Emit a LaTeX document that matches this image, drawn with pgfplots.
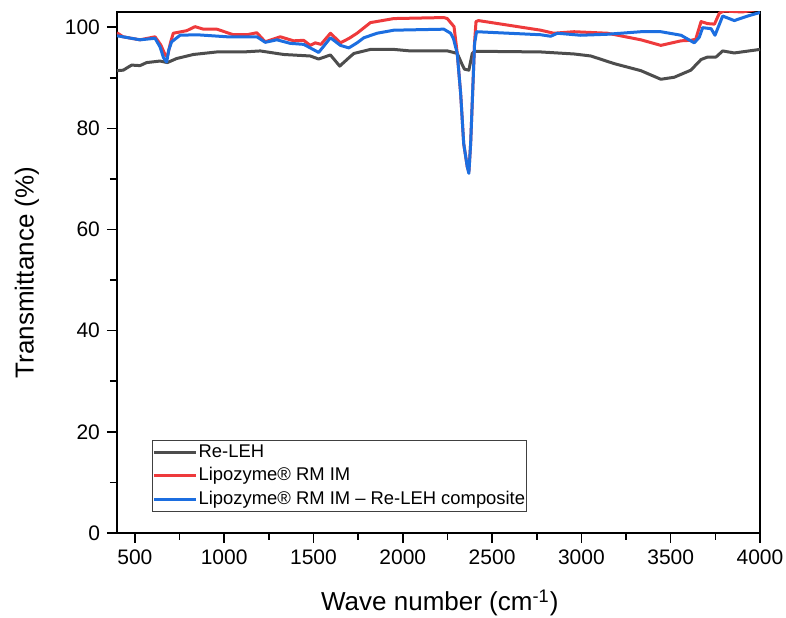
\documentclass[border=0pt]{standalone}
\usepackage{pgfplots}
\pgfplotsset{compat=1.18}
\usepackage{fontspec}
\setmainfont{Liberation Sans}
\definecolor{cblk}{HTML}{4D4D4D}
\definecolor{cred}{HTML}{EE3A3C}
\definecolor{cblu}{HTML}{1C6EE0}
\begin{document}
\begin{tikzpicture}
\begin{axis}[
  scale only axis, width=321.5pt, height=260.5pt,
  xmin=400, xmax=4000, ymin=0, ymax=103,
  xtick={500,1000,...,4000}, ytick={0,20,...,100},
  minor tick num=1,
  tick align=outside, tick pos=left,
  major tick length=5pt, minor tick length=3.5pt,
  every tick/.style={black, line width=0.8pt},
  axis line style={line width=1pt},
  /pgf/number format/assume math mode=true,
  /pgf/number format/set thousands separator={},
  ticklabel style={font=\fontsize{10.5}{12}\selectfont},
  xlabel={Wave number (cm\textsuperscript{-1})},
  ylabel={Transmittance (\%)},
  label style={font=\fontsize{13}{15}\selectfont},
  xlabel style={at={(axis description cs:0.502,-0.134)}, anchor=center},
  ylabel style={at={(axis description cs:-0.140,0.5)}, anchor=center},
  legend cell align=left,
  legend style={at={(rel axis cs:0.0544,0.0403)}, anchor=south west,
    draw=black!75, line width=0.5pt, inner xsep=0pt, inner ysep=1pt,
    font=\fontsize{9.2}{11}\selectfont, row sep=1.5pt,
    nodes={inner sep=0.6pt, text height=7pt, text depth=2pt}},
  legend image code/.code={\draw[#1, line width=1.5pt] (0pt,0pt) -- (21pt,0pt);},
  every axis plot/.append style={line width=1.5pt, line join=round},
]
\addplot[cblk] coordinates {
(400,91.4) (435,91.5) (482,92.5) (529,92.4) (566,93.0) (641,93.3) (682,93.0)
(734,93.8) (828,94.6) (959,95.1) (1108,95.1) (1202,95.3) (1333,94.6) (1482,94.3)
(1529,93.7) (1595,94.5) (1647,92.3) (1700,94.0) (1726,94.8) (1819,95.6) (1950,95.6)
(2043,95.3) (2250,95.3) (2284,95.0) (2305,94.8) (2330,92.8) (2345,91.7) (2370,91.5)
(2389,94.8) (2400,95.2) (2500,95.2) (2772,95.1) (2959,94.7) (3053,94.3) (3183,92.8)
(3333,91.4) (3445,89.7) (3520,90.1) (3613,91.5) (3670,93.6) (3707,94.1) (3754,94.1)
(3791,95.3) (3856,94.9) (4000,95.6)
};
\addlegendentry{Re-LEH}
\addplot[cred] coordinates {
(400,98.9) (434,98.1) (480,97.8) (529,97.5) (613,98.1) (645,96.5) (670,94.5)
(682,94.2) (700,97.0) (715,98.8) (790,99.3) (837,100.1) (884,99.6) (959,99.6)
(1052,98.5) (1127,98.5) (1183,98.9) (1230,97.1) (1314,98.1) (1389,97.3) (1445,97.4)
(1482,96.4) (1510,96.9) (1542,96.6) (1595,98.8) (1651,96.9) (1700,97.8) (1744,98.8)
(1819,100.9) (1950,101.7) (2230,101.9) (2249,101.7) (2287,100.1) (2305,94.8)
(2324,86.9) (2341,77.0) (2361,72.4) (2370,71.4) (2380,77.0) (2391,86.9) (2402,97.0)
(2410,101.1) (2424,101.3) (2772,99.4) (2845,98.8) (2959,99.1) (3146,98.8) (3333,97.5)
(3445,96.4) (3558,97.3) (3613,97.4) (3640,97.6) (3670,101.1) (3707,100.7) (3745,100.6)
(3773,102.8) (3800,103.2) (3900,103.0) (4000,103.6)
};
\addlegendentry{Lipozyme® RM IM}
\addplot[cblu] coordinates {
(400,98.3) (480,97.8) (529,97.5) (613,97.8) (641,96.1) (660,94.0) (678,93.1)
(690,95.5) (706,97.1) (753,98.4) (846,98.5) (1015,98.1) (1183,98.1) (1230,97.0)
(1295,97.5) (1370,96.8) (1445,96.6) (1482,95.9) (1529,95.0) (1595,97.9) (1651,96.4)
(1698,95.9) (1744,96.9) (1782,97.9) (1856,98.8) (1950,99.4) (2230,99.6) (2268,98.8)
(2284,97.7) (2305,94.8) (2324,86.9) (2341,77.0) (2361,72.4) (2370,71.1) (2380,77.0)
(2391,86.9) (2402,96.8) (2413,99.1) (2772,98.5) (2828,98.2) (2866,98.8) (2996,98.4)
(3146,98.6) (3333,99.1) (3445,99.1) (3558,98.4) (3632,96.9) (3660,98.0) (3679,99.9)
(3726,99.7) (3748,98.4) (3791,102.2) (3856,101.3) (3931,102.2) (4000,102.9)
};
\addlegendentry{Lipozyme® RM IM – Re-LEH composite}
\end{axis}
\pgfresetboundingbox
\path ([shift={(-58.5pt,-42.5pt)}]current axis.south west) rectangle ([shift={(13pt,6pt)}]current axis.north east);
\end{tikzpicture}
\end{document}
